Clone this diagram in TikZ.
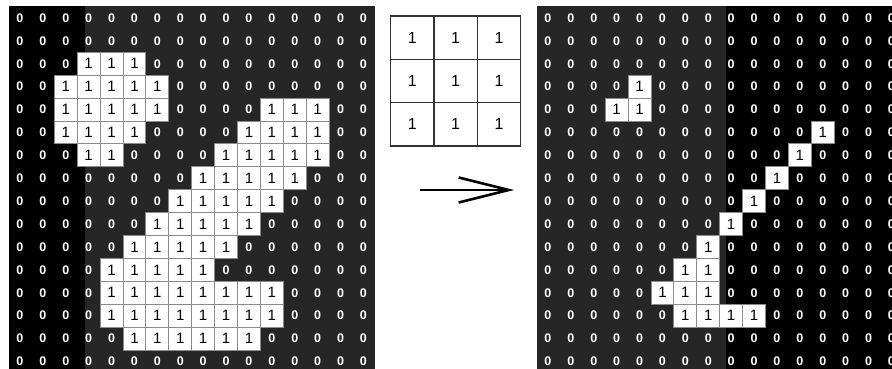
\documentclass[tikz,border=0pt]{standalone}
\usepackage{fontspec}
\setsansfont{Liberation Sans}
\usetikzlibrary{arrows.meta}
\definecolor{bggray}{HTML}{262626}
\definecolor{cellline}{HTML}{8A8A8A}

% image before erosion
\newcommand\leftgrid{%
  {0,0,0,0,0,0,0,0,0,0,0,0,0,0,0,0},
  {0,0,0,0,0,0,0,0,0,0,0,0,0,0,0,0},
  {0,0,0,1,1,1,0,0,0,0,0,0,0,0,0,0},
  {0,0,1,1,1,1,1,0,0,0,0,0,0,0,0,0},
  {0,0,1,1,1,1,1,0,0,0,0,1,1,1,0,0},
  {0,0,1,1,1,1,0,0,0,0,1,1,1,1,0,0},
  {0,0,0,1,1,0,0,0,0,1,1,1,1,1,0,0},
  {0,0,0,0,0,0,0,0,1,1,1,1,1,0,0,0},
  {0,0,0,0,0,0,0,1,1,1,1,1,0,0,0,0},
  {0,0,0,0,0,0,1,1,1,1,1,0,0,0,0,0},
  {0,0,0,0,0,1,1,1,1,1,0,0,0,0,0,0},
  {0,0,0,0,1,1,1,1,1,0,0,0,0,0,0,0},
  {0,0,0,0,1,1,1,1,1,1,1,1,0,0,0,0},
  {0,0,0,0,1,1,1,1,1,1,1,1,0,0,0,0},
  {0,0,0,0,0,1,1,1,1,1,1,0,0,0,0,0},
  {0,0,0,0,0,0,0,0,0,0,0,0,0,0,0,0}}
% image after erosion
\newcommand\rightgrid{%
  {0,0,0,0,0,0,0,0,0,0,0,0,0,0,0,0},
  {0,0,0,0,0,0,0,0,0,0,0,0,0,0,0,0},
  {0,0,0,0,0,0,0,0,0,0,0,0,0,0,0,0},
  {0,0,0,0,1,0,0,0,0,0,0,0,0,0,0,0},
  {0,0,0,1,1,0,0,0,0,0,0,0,0,0,0,0},
  {0,0,0,0,0,0,0,0,0,0,0,0,1,0,0,0},
  {0,0,0,0,0,0,0,0,0,0,0,1,0,0,0,0},
  {0,0,0,0,0,0,0,0,0,0,1,0,0,0,0,0},
  {0,0,0,0,0,0,0,0,0,1,0,0,0,0,0,0},
  {0,0,0,0,0,0,0,0,1,0,0,0,0,0,0,0},
  {0,0,0,0,0,0,0,1,0,0,0,0,0,0,0,0},
  {0,0,0,0,0,0,1,1,0,0,0,0,0,0,0,0},
  {0,0,0,0,0,1,1,1,0,0,0,0,0,0,0,0},
  {0,0,0,0,0,0,1,1,1,1,0,0,0,0,0,0},
  {0,0,0,0,0,0,0,0,0,0,0,0,0,0,0,0},
  {0,0,0,0,0,0,0,0,0,0,0,0,0,0,0,0}}

\begin{document}
\begin{tikzpicture}[x=1pt,y=-1pt,
  zero/.style={text=white,inner sep=0pt,
    font=\sffamily\bfseries\fontsize{12.5}{13}\selectfont},
  one/.style={fill=white,draw=cellline,line width=.9pt,minimum size=22.9pt,
    inner sep=0pt,font=\sffamily\fontsize{15}{15}\selectfont},
  kern/.style={draw=black!80,line width=1.2pt,minimum size=43.3pt,
    inner sep=0pt,font=\sffamily\fontsize{16}{16}\selectfont}]
  \useasboundingbox (0,0) rectangle (892,369);
  \clip (0,0) rectangle (892,369);
  % backgrounds
  \fill[black] (8.5,6.5) rectangle (85,374);
  \fill[bggray] (85,6.5) rectangle (374.9,374);
  \fill[bggray] (536.5,6.5) rectangle (726,374);
  \fill[black] (726,6.5) rectangle (902,374);
  % left grid
  \foreach \row [count=\r] in \leftgrid {
    \foreach \v [count=\c] in \row {
      \ifnum\v=1
        \node[one] (L\r-\c) at ({19.95+22.9*(\c-1)},{17.95+22.9*(\r-1)}) {1};
      \else
        \node[zero] (L\r-\c) at ({19.95+22.9*(\c-1)},{17.95+22.9*(\r-1)}) {0};
      \fi
    }
  }
  % right grid
  \foreach \row [count=\r] in \rightgrid {
    \foreach \v [count=\c] in \row {
      \ifnum\v=1
        \node[one] (R\r-\c) at ({547.95+22.9*(\c-1)},{17.95+22.9*(\r-1)}) {1};
      \else
        \node[zero] (R\r-\c) at ({547.95+22.9*(\c-1)},{17.95+22.9*(\r-1)}) {0};
      \fi
    }
  }
  % structuring element
  \foreach \i in {1,2,3}
    \foreach \j in {1,2,3}
      \node[kern] (K\i\j) at ({412.35+43.3*(\j-1)},{37.65+43.3*(\i-1)}) {1};
  \coordinate (tail) at (420,190);
  \coordinate (tip) at (514,190);
  \draw[line width=2.6pt,-{Straight Barb[length=50pt,width=25pt]}] (tail) -- (tip);
\end{tikzpicture}
\end{document}
